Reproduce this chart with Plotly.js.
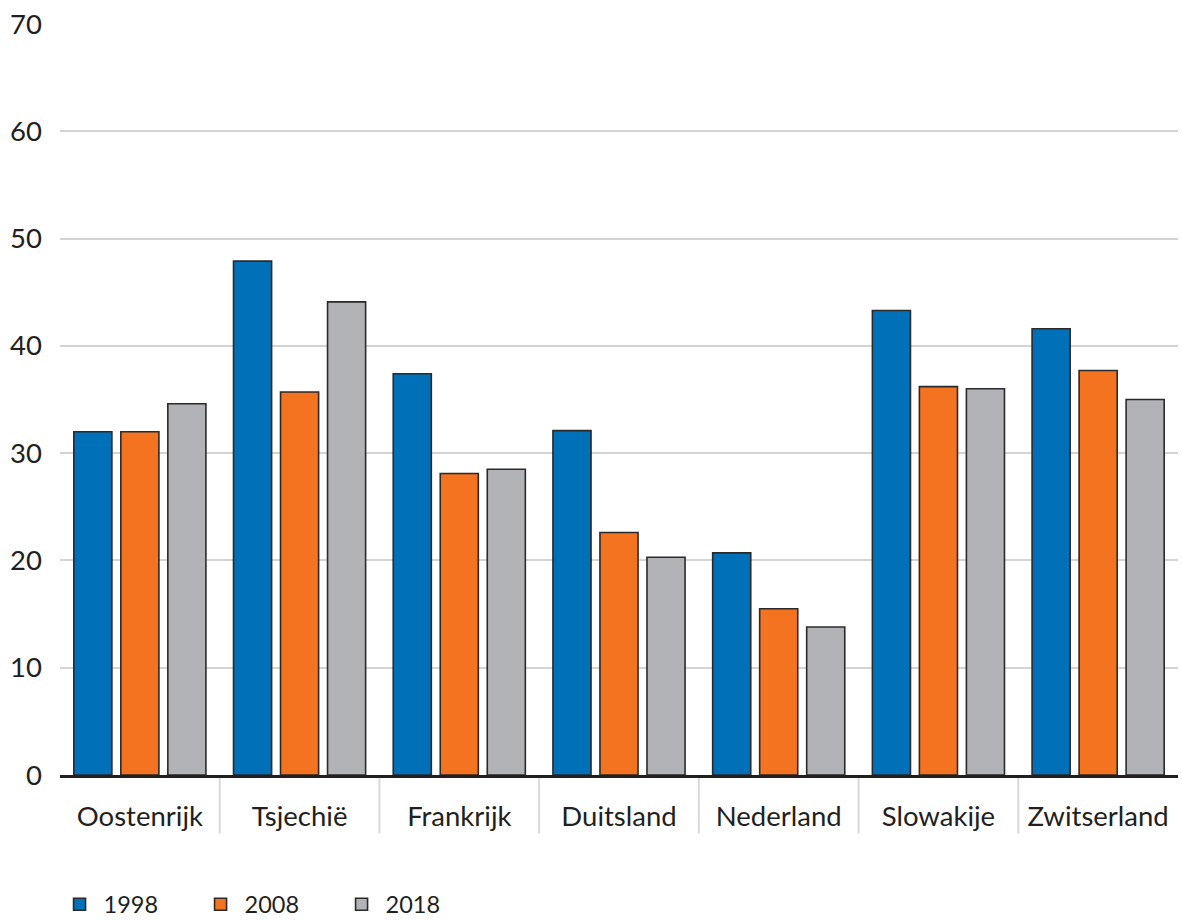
<!DOCTYPE html>
<html>
<head>
<meta charset="utf-8">
<script src="https://cdn.plot.ly/plotly-3.0.1.min.js"></script>
<style>html,body{margin:0;padding:0;background:#fff;}#chart{width:1182px;height:921px;}</style>
</head>
<body>
<div id="chart"></div>
<script>
const categories = ["Oostenrijk", "Tsjechië", "Frankrijk", "Duitsland", "Nederland", "Slowakije", "Zwitserland"];
const seriesNames = ["1998", "2008", "2018"];
const values1998 = [32.0, 47.9, 37.4, 32.1, 20.7, 43.3, 41.6];
const values2008 = [32.0, 35.7, 28.1, 22.6, 15.5, 36.2, 37.7];
const values2018 = [34.6, 44.1, 28.5, 20.3, 13.8, 36.0, 35.0];
const colors = ["#0070B9", "#F37321", "#B2B3B6"];
const yTicks = [0, 10, 20, 30, 40, 50, 60, 70];

const allValues = [values1998, values2008, values2018];
const traces = allValues.map((v, i) => ({
  type: "bar",
  name: seriesNames[i],
  x: categories,
  y: v,
  marker: {color: colors[i], line: {color: "#2a2a2a", width: 1.6}},
  hoverinfo: "x+y+name"
}));

const font = {family: "Lato, 'Open Sans', sans-serif", weight: 400, color: "#231f20"};

const shapes = [];
for (let i = 0; i < categories.length - 1; i++) {
  shapes.push({type: "line", xref: "x", yref: "paper", x0: i + 0.5, x1: i + 0.5, y0: -0.004, y1: -0.078,
    line: {color: "#d9d9d9", width: 2}});
}

const layout = {
  width: 1182, height: 921,
  margin: {l: 60, r: 4, t: 24, b: 146},
  paper_bgcolor: "#fff", plot_bgcolor: "#fff",
  barmode: "group", bargap: 0.117, bargroupgap: 0.19,
  font: Object.assign({size: 27}, font),
  xaxis: {
    type: "category",
    showgrid: false,
    showline: true, linecolor: "#231f20", linewidth: 2.5,
    ticks: "outside", ticklen: 15, tickcolor: "rgba(0,0,0,0)",
    tickfont: Object.assign({size: 27.5}, font),
    zeroline: false
  },
  yaxis: {
    range: [0, 70],
    tickvals: yTicks,
    showgrid: true, gridcolor: "#d4d4d4", gridwidth: 2,
    zeroline: false, showline: false,
    ticks: "", ticklabelstandoff: 17,
    tickfont: Object.assign({size: 27.5}, font)
  },
  showlegend: true,
  legend: {
    orientation: "h",
    xref: "container", x: 0.047, xanchor: "left",
    yref: "container", y: 0.018, yanchor: "middle",
    font: Object.assign({size: 23.5}, font),
    itemwidth: 38, traceorder: "normal", entrywidth: 88
  },
  shapes: shapes
};

Plotly.newPlot("chart", traces, layout, {displayModeBar: false, staticPlot: true});
</script>
</body>
</html>
